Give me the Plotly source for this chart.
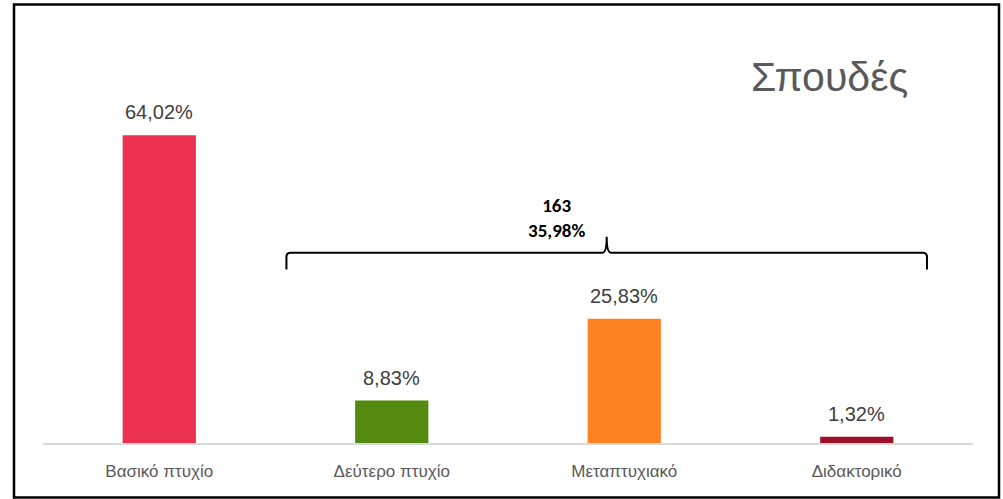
import plotly.graph_objects as go

categories = ["Βασικό πτυχίο", "Δεύτερο πτυχίο", "Μεταπτυχιακό", "Διδακτορικό"]
values = [64.02, 8.83, 25.83, 1.32]
value_labels = ["64,02%", "8,83%", "25,83%", "1,32%"]
colors = ["#EB3050", "#548A10", "#FF8222", "#9E1028"]
title_text = "Σπουδές"
group_count = "163"
group_share = "35,98%"

W, H = 1003, 499
ML, MR, MT, MB = 43, 30, 20, 56
plot_w = W - ML - MR
plot_h = H - MT - MB
YMAX = 88.0

x_idx = list(range(len(categories)))

fig = go.Figure()
fig.add_trace(go.Bar(
    x=x_idx, y=values, marker=dict(color=colors, line=dict(width=0)),
    width=0.315, hoverinfo="skip"
))

annotations = []
for i, (v, t) in enumerate(zip(values, value_labels)):
    annotations.append(dict(
        x=i, y=v, xref="x", yref="y", text=t, showarrow=False,
        yanchor="bottom", yshift=10,
        font=dict(family="Liberation Sans, Arial, sans-serif", size=20, color="#404040")
    ))

# Bracket over categories 1..3
bx0, bx1 = 0.547, 3.302
bxm = (bx0 + bx1) / 2
by_line, by_end, by_tip = 39.6, 36.1, 42.9
rx, ry = 0.018, 0.9
path = (
    f"M {bx0},{by_end} L {bx0},{by_line - ry} Q {bx0},{by_line} {bx0 + rx},{by_line} "
    f"L {bxm - rx},{by_line} Q {bxm},{by_line} {bxm},{by_tip} "
    f"Q {bxm},{by_line} {bxm + rx},{by_line} "
    f"L {bx1 - rx},{by_line} Q {bx1},{by_line} {bx1},{by_line - ry} L {bx1},{by_end}"
)
shapes = [
    dict(type="path", path=path, xref="x", yref="y",
         line=dict(color="black", width=2)),
]

annotations.append(dict(
    x=bx0 + (bx1 - bx0) * 0.422, y=by_tip, xref="x", yref="y",
    text=f"<b>{group_count}<br>{group_share}</b>", showarrow=False,
    yanchor="bottom", yshift=-7,
    font=dict(family="Carlito, Calibri, Noto Sans, sans-serif", size=19, color="black")
))

# Title
annotations.append(dict(
    x=(910 - ML) / plot_w, y=(H - MB - 52) / plot_h, xref="paper", yref="paper",
    text=title_text, showarrow=False, xanchor="right", yanchor="top",
    font=dict(family="Liberation Sans, Arial, sans-serif", size=41, color="#595959")
))

# Outer frame
def px_x(p):
    return (p - ML) / plot_w

def px_y(p):
    return (H - MB - p) / plot_h

shapes.append(dict(type="rect", xref="paper", yref="paper",
                   x0=px_x(14), x1=px_x(999), y0=px_y(497.5), y1=px_y(4.5),
                   line=dict(color="black", width=2.5), layer="above"))

fig.update_layout(
    width=W, height=H,
    margin=dict(l=ML, r=MR, t=MT, b=MB),
    paper_bgcolor="white", plot_bgcolor="white",
    showlegend=False,
    shapes=shapes, annotations=annotations,
    xaxis=dict(
        range=[-0.5, 3.5], tickmode="array", tickvals=x_idx, ticktext=categories,
        showgrid=False, zeroline=False, showline=True, linecolor="#D9D9D9", linewidth=2,
        ticks="", ticklabelstandoff=12,
        tickfont=dict(family="Liberation Sans Narrow, Arial Narrow, Liberation Sans, sans-serif",
                      size=17, color="#595959"),
        fixedrange=True,
    ),
    yaxis=dict(range=[0, YMAX], visible=False, fixedrange=True),
)

fig.write_html("out.html", config={"displayModeBar": False},
               post_script="document.body.style.margin='0';document.body.style.overflow='hidden';")
